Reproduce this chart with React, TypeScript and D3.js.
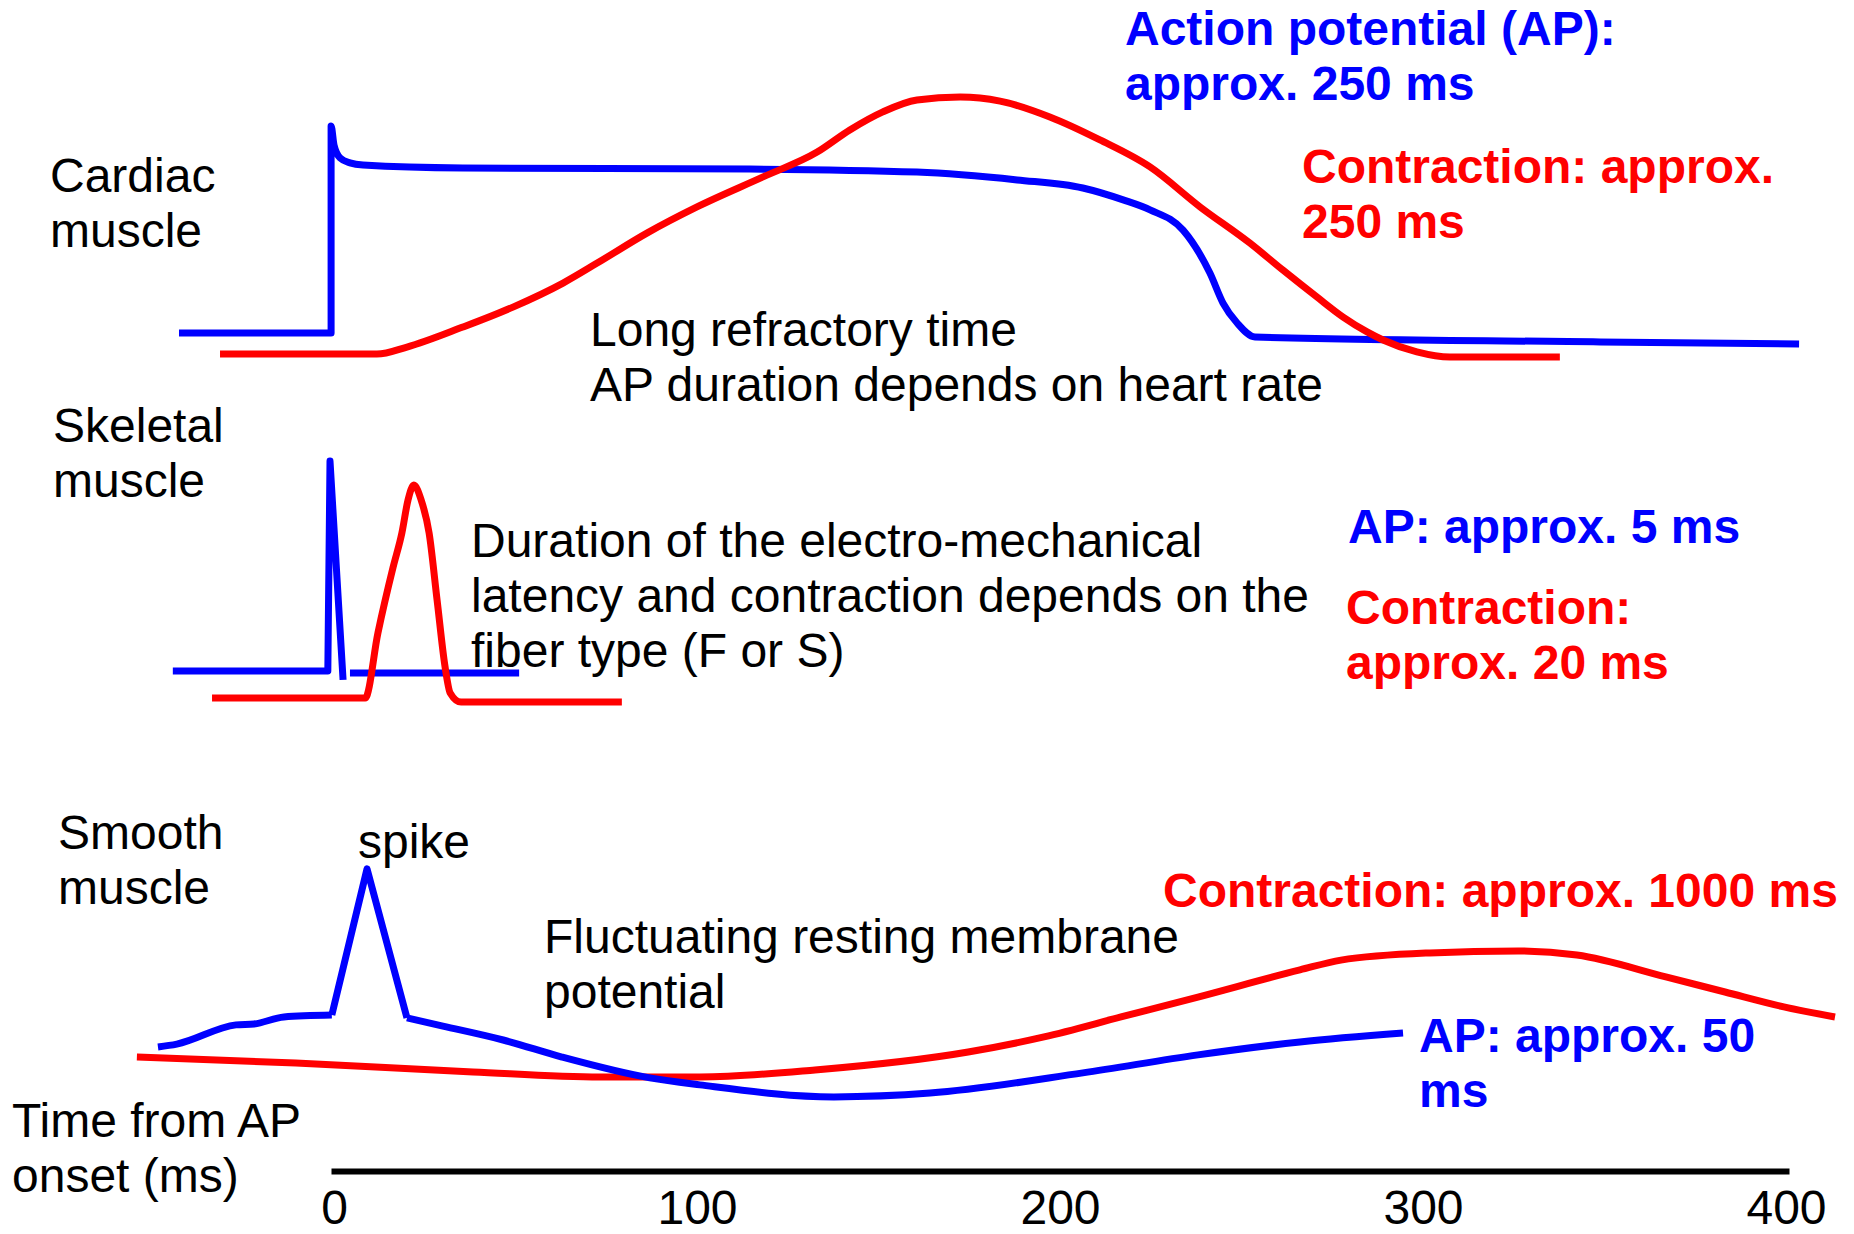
import React, { useEffect, useRef } from "react";
import * as d3 from "d3";

type Pt = [number, number]; // [time in ms, relative amplitude 0-100]

// cardiac muscle
const cardiacAp: Pt[] = [
  [-42.7, 10], [-0.8, 10], [-0.8, 86.7], [0, 79.6], [1.7, 74.8], [4.4, 73],
  [8, 72.2], [35.5, 71.1], [114.6, 70.7], [160.6, 69.6], [188.2, 66.7],
  [206.3, 63.7], [217.4, 59.3], [224.8, 55.6], [233.9, 48.1], [241.3, 32.2],
  [244.9, 21.1], [248.8, 13.7], [253.7, 8.5], [348.8, 6.7], [403.6, 5.9],
];
const cardiacContraction: Pt[] = [
  [-31.4, 2.2], [11.8, 2.2], [20.1, 4.8], [35.5, 12.2], [49.3, 19.6], [63.1, 28.5],
  [72.5, 35.9], [86.2, 47], [100, 56.7], [118.2, 67.8], [133.1, 77], [142.1, 85.2],
  [151.2, 91.9], [160.6, 96.3], [172.5, 97.4], [183.5, 95.9], [197.2, 90],
  [211, 81.5], [224.8, 71.5], [238.6, 56.7], [252.3, 43.3], [261.4, 33.3],
  [270.8, 23.3], [278, 15.9], [284.6, 10.4], [289, 7.4], [298.3, 3],
  [307.4, 1.1], [337.7, 1.1],
];

// skeletal muscle
const skeletalAp: Pt[] = [[-44.4, 15.3], [-1.7, 15.3], [-1.1, 97.6], [2.5, 11.8]];
const skeletalApTail: Pt[] = [[4.4, 14.5], [51, 14.5]];
const skeletalContraction: Pt[] = [
  [-33.6, 4.7], [8.6, 4.7], [12.1, 30.2], [16.3, 56.1], [18.7, 69.4],
  [20.4, 82.4], [22, 88.2], [24, 82.4], [26.2, 69.4], [28.4, 43.1],
  [30.6, 16.9], [32, 6.7], [35, 3.1], [79.3, 3.1],
];

// smooth muscle
const smoothApPre: Pt[] = [
  [-48.5, 22.1], [-43.3, 23.3], [-27, 31.3], [-22, 31.7], [-13.8, 34.6], [-0.6, 35.4],
];
const smoothApSpike: Pt[] = [[-0.6, 35.4], [9.1, 96.3], [20.1, 34.2]];
const smoothApPost: Pt[] = [
  [20.1, 34.2], [30, 30.8], [46.6, 25], [62.8, 17.9], [87, 9.2], [100.8, 6.3],
  [137.7, 1.3], [164.2, 2.9], [206.3, 11.3], [238, 18.8], [266.1, 24.2], [294.5, 27.9],
];
const smoothContraction: Pt[] = [
  [-54.3, 17.9], [-10.5, 15.4], [38.3, 11.7], [73.3, 9.6], [100.8, 9.6],
  [132.5, 12.5], [174.7, 20], [195.6, 26.3], [216.8, 34.6], [238, 42.9],
  [266.1, 54.2], [277.4, 58.3], [301.9, 61.3], [326.2, 62.1], [342.4, 60.4],
  [366.9, 51.3], [383.2, 45], [399.4, 38.8], [413.5, 34.6],
];

const tickValues = [0, 100, 200, 300, 400];
const tickLabels = ["0", "100", "200", "300", "400"];

const BLUE = "#0000ff";
const RED = "#ff0000";
const FONT = "'Liberation Sans', Arial, Helvetica, sans-serif";

const App: React.FC = () => {
  const svgRef = useRef<SVGSVGElement | null>(null);

  useEffect(() => {
    const width = 1854, height = 1234;
    const svg = d3.select(svgRef.current).attr("width", width).attr("height", height);
    svg.selectAll("*").remove();

    const x = d3.scaleLinear().domain([0, 400]).range([334, 1786]);
    const yCardiac = d3.scaleLinear().domain([0, 100]).range([360, 90]);
    const ySkeletal = d3.scaleLinear().domain([0, 100]).range([710, 455]);
    const ySmooth = d3.scaleLinear().domain([0, 100]).range([1100, 860]);

    const traces = [
      { data: cardiacAp, y: yCardiac, color: BLUE, curve: d3.curveMonotoneX },
      { data: cardiacContraction, y: yCardiac, color: RED, curve: d3.curveMonotoneX },
      { data: skeletalAp, y: ySkeletal, color: BLUE, curve: d3.curveLinear },
      { data: skeletalApTail, y: ySkeletal, color: BLUE, curve: d3.curveLinear },
      { data: skeletalContraction, y: ySkeletal, color: RED, curve: d3.curveMonotoneX },
      { data: smoothContraction, y: ySmooth, color: RED, curve: d3.curveMonotoneX },
      { data: smoothApPre, y: ySmooth, color: BLUE, curve: d3.curveMonotoneX },
      { data: smoothApSpike, y: ySmooth, color: BLUE, curve: d3.curveLinear },
      { data: smoothApPost, y: ySmooth, color: BLUE, curve: d3.curveMonotoneX },
    ];

    traces.forEach(t => {
      const line = d3.line<Pt>()
        .x(d => x(d[0]))
        .y(d => t.y(d[1]))
        .curve(t.curve);
      svg.append("path")
        .datum(t.data)
        .attr("fill", "none")
        .attr("stroke", t.color)
        .attr("stroke-width", 7)
        .attr("stroke-linejoin", "round")
        .attr("d", line);
    });

    // time axis
    const axis = svg.append("g")
      .attr("transform", "translate(0,1171)")
      .call(d3.axisBottom(x)
        .tickValues(tickValues)
        .tickFormat((d, i) => tickLabels[i])
        .tickSize(0)
        .tickSizeOuter(0)
        .tickPadding(19));
    axis.select(".domain").attr("stroke", "#000").attr("stroke-width", 6).attr("stroke-linecap", "square");
    axis.selectAll("text").attr("font-size", 48).attr("font-family", FONT).attr("fill", "#000");

    // annotations
    const labels: { x: number; y: number; lines: string[]; color: string; bold?: boolean }[] = [
      { x: 50, y: 192, lines: ["Cardiac", "muscle"], color: "#000" },
      { x: 53, y: 442, lines: ["Skeletal", "muscle"], color: "#000" },
      { x: 58, y: 849, lines: ["Smooth", "muscle"], color: "#000" },
      { x: 12, y: 1137, lines: ["Time from AP", "onset (ms)"], color: "#000" },
      { x: 590, y: 346, lines: ["Long refractory time", "AP duration depends on heart rate"], color: "#000" },
      { x: 471, y: 557, lines: ["Duration of the electro-mechanical", "latency and contraction depends on the", "fiber type (F or S)"], color: "#000" },
      { x: 358, y: 858, lines: ["spike"], color: "#000" },
      { x: 544, y: 953, lines: ["Fluctuating resting membrane", "potential"], color: "#000" },
      { x: 1125, y: 45, lines: ["Action potential (AP):", "approx. 250 ms"], color: BLUE, bold: true },
      { x: 1302, y: 183, lines: ["Contraction: approx.", "250 ms"], color: RED, bold: true },
      { x: 1348, y: 543, lines: ["AP: approx. 5 ms"], color: BLUE, bold: true },
      { x: 1346, y: 624, lines: ["Contraction:", "approx. 20 ms"], color: RED, bold: true },
      { x: 1163, y: 907, lines: ["Contraction: approx. 1000 ms"], color: RED, bold: true },
      { x: 1419, y: 1052, lines: ["AP: approx. 50", "ms"], color: BLUE, bold: true },
    ];

    labels.forEach(l => {
      const text = svg.append("text")
        .attr("x", l.x)
        .attr("y", l.y)
        .attr("font-family", FONT)
        .attr("font-size", 48)
        .attr("font-weight", l.bold ? "bold" : "normal")
        .attr("fill", l.color);
      l.lines.forEach((s, i) => {
        text.append("tspan").attr("x", l.x).attr("dy", i === 0 ? 0 : 55).text(s);
      });
    });
  }, []);

  return <svg ref={svgRef} style={{ position: "absolute", left: 0, top: 0, display: "block", background: "#fff" }}></svg>;
};

export default App;
